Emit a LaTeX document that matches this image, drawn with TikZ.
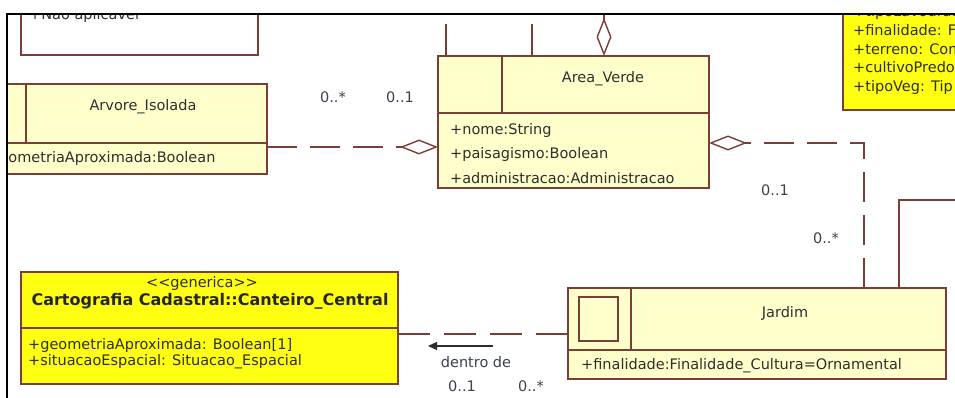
\documentclass[tikz,border=0pt]{standalone}
\usepackage{fontspec}
\usetikzlibrary{arrows.meta}
\newfontfamily\umlfont{DejaVu Sans}
\definecolor{umlline}{HTML}{7A3E36}
\definecolor{umlfill}{HTML}{FFFFCC}
\definecolor{hotfill}{HTML}{FFFF12}
\definecolor{ink}{HTML}{2E2E2E}
\definecolor{multink}{HTML}{3A4150}
\tikzset{
  classbox/.style={draw=umlline,fill=umlfill,line width=1.6pt,rectangle,inner sep=0pt,outer sep=0pt,anchor=north west},
  hotbox/.style={classbox,fill=hotfill},
  notebox/.style={classbox,fill=white},
  sepline/.style={draw=umlline,line width=1.6pt},
  txt/.style={font=\umlfont\fontsize{14.5}{16}\selectfont,text=ink,inner sep=0pt},
  cname/.style={txt,anchor=base},
  attr/.style={txt,anchor=base west},
  mult/.style={txt,text=multink,anchor=base},
  link/.style={draw=umlline,line width=1.6pt},
  assoc/.style={link,dash pattern=on 30pt off 13pt},
  aggr/.style={-{Diamond[open,length=38pt,width=15pt,line width=1.4pt]}},
  dirarrow/.style={-{Triangle[length=9pt,width=8pt]},draw=ink,line width=1.3pt}
}
\begin{document}
\begin{tikzpicture}[x=1pt,y=-1pt]
  \useasboundingbox[fill=white] (0,0) rectangle (955,398);

  \begin{scope}
    \clip (7,14) rectangle (955,398);

    % class boxes
    \node[notebox,minimum width=237pt,minimum height=75pt] (naobox) at (21,-20) {};
    \node[classbox,minimum width=297pt,minimum height=90pt] (arvore) at (-30,84) {};
    \node[classbox,minimum width=271pt,minimum height=132pt] (area) at (438,56) {};
    \node[classbox,minimum width=378pt,minimum height=91pt] (jardim) at (568,288) {};
    \node[hotbox,minimum width=377pt,minimum height=112pt] (canteiro) at (21,272) {};
    \node[hotbox,minimum width=140pt,minimum height=120pt] (tipobox) at (843,-10) {};

    % compartments
    \draw[sepline] (arvore.west |- 0,143) -- (arvore.east |- 0,143);
    \draw[sepline] (arvore.north -| 26,0) -- (26,143);
    \draw[sepline] (area.west |- 0,113) -- (area.east |- 0,113);
    \draw[sepline] (area.north -| 502,0) -- (502,113);
    \draw[sepline] (jardim.west |- 0,350) -- (jardim.east |- 0,350);
    \draw[sepline] (jardim.north -| 631,0) -- (631,350);
    \draw[sepline] (canteiro.west |- 0,328) -- (canteiro.east |- 0,328);
    \node[draw=umlline,line width=1.6pt,inner sep=0pt,anchor=north west,
          minimum width=39pt,minimum height=44pt] (jardimicon) at (578,296) {};

    % texts
    \node[attr] (naoattr) at (29,20) {+Nao aplicavel};
    \node[cname] (arvorename) at (143,111) {Arvore\_Isolada};
    \node[attr] (arvoreattr) at (-22,163) {+geometriaAproximada:Boolean};
    \node[cname] (areaname) at (603,83) {Area\_Verde};
    \node[attr] (areaattrA) at (450,135) {+nome:String};
    \node[attr] (areaattrB) at (450,159) {+paisagismo:Boolean};
    \node[attr] (areaattrC) at (450,183) {+administracao:Administracao};
    \node[cname] (jardimname) at (785,317) {Jardim};
    \node[attr] (jardimattr) at (581,369) {+finalidade:Finalidade\_Cultura=Ornamental};
    \node[cname] (cantstereo) at (202,287) {<{}<generica>{}>};
    \node[cname,font=\umlfont\bfseries\fontsize{16}{18}\selectfont,text=black!85] (cantname) at (210,305) {Cartografia Cadastral::Canteiro\_Central};
    \node[attr] (cantattrA) at (28,349) {+geometriaAproximada: Boolean[1]};
    \node[attr] (cantattrB) at (28,365) {+situacaoEspacial: Situacao\_Espacial};
    \node[attr] (tipoA) at (853,17) {+tipoLavoura:};
    \node[attr] (tipoB) at (853,36) {+finalidade: F};
    \node[attr] (tipoC) at (853,55) {+terreno: Com};
    \node[attr] (tipoD) at (853,73) {+cultivoPredo};
    \node[attr] (tipoE) at (853,92) {+tipoVeg: Tip};

    % associations
    \draw[assoc,aggr] (arvore.east |- 0,147) -- (area.west |- 0,147);
    \draw[assoc,aggr] (jardim.north -| 864,0) |- (area.east |- 0,143);
    \draw[assoc,dash pattern=on 32pt off 14pt] (jardim.west |- 0,334) -- (canteiro.east |- 0,334);

    \coordinate (upA) at (446,24);
    \coordinate (upB) at (532,24);
    \coordinate (upC) at (604,0);
    \coordinate (outR) at (965,200);
    \draw[link] (upA) -- (area.north -| upA);
    \draw[link] (upB) -- (area.north -| upB);
    \draw[link,aggr] (upC) -- (area.north -| upC);
    \draw[link] (jardim.north -| 899,0) |- (outR);

    % multiplicities
    \node[mult] (mArvA) at (333,103) {0..*};
    \node[mult] (mArvB) at (400,103) {0..1};
    \node[mult] (mJarA) at (775,196) {0..1};
    \node[mult] (mJarB) at (826,243) {0..*};
    \node[mult] (dentro) at (476,367) {dentro de};
    \node[mult] (mCanA) at (462,391) {0..1};
    \node[mult] (mCanB) at (531,391) {0..*};
    \coordinate (dirA) at (493,346);
    \coordinate (dirB) at (428,346);
    \draw[dirarrow] (dirA) -- (dirB);
  \end{scope}

  % frame
  \draw[line width=1.3pt] (7,398) -- (7,14) -- (955,14);
\end{tikzpicture}
\end{document}
